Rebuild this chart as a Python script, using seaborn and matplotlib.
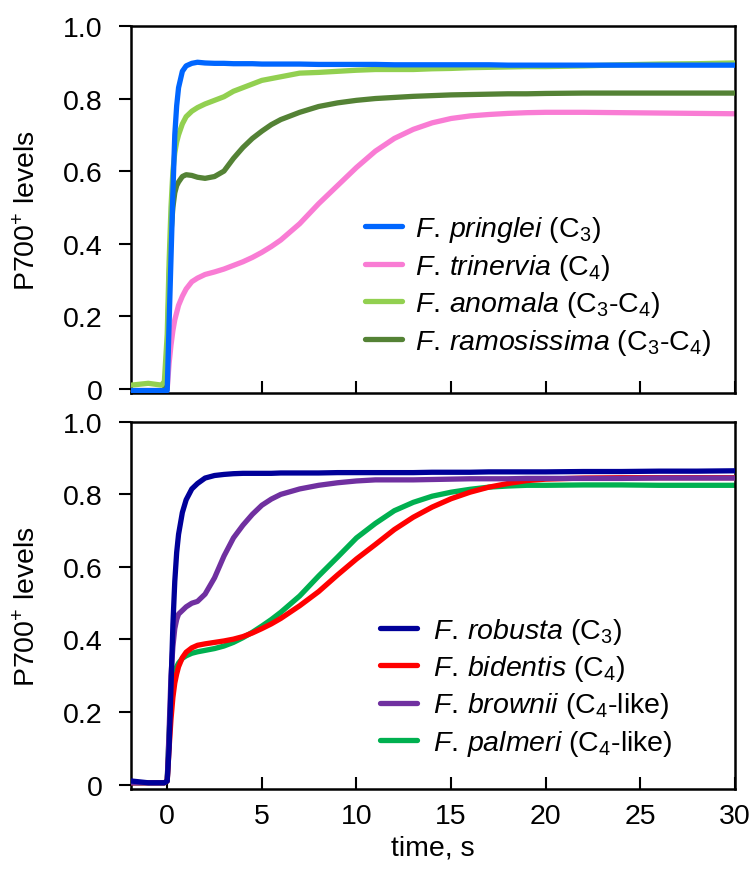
import matplotlib
matplotlib.use("Agg")
import matplotlib.pyplot as plt
import seaborn as sns
import pandas as pd

# time axis (s), shared by all traces
time_s = [-1.9, -1.0, -0.3, -0.15, 0, 0.1, 0.2, 0.3, 0.4, 0.5, 0.6, 0.8, 1.0, 1.3, 1.6,
          2.0, 2.5, 3.0, 3.5, 4.0, 4.5, 5.0, 5.5, 6.0, 7, 8, 9, 10, 11, 12, 13, 14, 15,
          16, 17, 18, 19, 20, 22, 24, 26, 28, 30]

# top panel
pringlei = [-0.005, -0.005, -0.005, -0.005, -0.005, 0.18, 0.36, 0.54, 0.70, 0.78, 0.83, 0.875,
            0.89, 0.897, 0.90, 0.898, 0.897, 0.897, 0.896, 0.896, 0.896, 0.895, 0.895, 0.895,
            0.895, 0.894, 0.894, 0.894, 0.894, 0.893, 0.893, 0.893, 0.893, 0.893, 0.893, 0.892,
            0.892, 0.892, 0.892, 0.892, 0.892, 0.892, 0.892]
trinervia = [-0.005, -0.005, -0.005, -0.005, 0.0, 0.07, 0.12, 0.16, 0.19, 0.21, 0.23, 0.255,
             0.275, 0.295, 0.305, 0.315, 0.322, 0.33, 0.34, 0.35, 0.362, 0.376, 0.392, 0.41,
             0.455, 0.51, 0.56, 0.61, 0.655, 0.69, 0.715, 0.733, 0.745, 0.752, 0.756, 0.759,
             0.761, 0.762, 0.762, 0.761, 0.76, 0.759, 0.758]
anomala = [0.01, 0.015, 0.01, 0.02, 0.15, 0.35, 0.50, 0.60, 0.65, 0.68, 0.70, 0.73, 0.75,
           0.765, 0.775, 0.785, 0.795, 0.805, 0.82, 0.83, 0.84, 0.85, 0.855, 0.86, 0.87, 0.872,
           0.875, 0.878, 0.88, 0.88, 0.88, 0.882, 0.883, 0.885, 0.886, 0.887, 0.888, 0.888,
           0.89, 0.893, 0.895, 0.896, 0.898]
ramosissima = [-0.005, -0.005, -0.005, -0.005, 0.05, 0.30, 0.43, 0.50, 0.54, 0.56, 0.57, 0.585,
               0.59, 0.588, 0.583, 0.58, 0.585, 0.60, 0.635, 0.665, 0.69, 0.71, 0.728, 0.742,
               0.762, 0.778, 0.788, 0.795, 0.80, 0.803, 0.806, 0.808, 0.81, 0.811, 0.812, 0.813,
               0.813, 0.814, 0.815, 0.815, 0.815, 0.815, 0.815]

# bottom panel
robusta = [0.01, 0.005, 0.005, 0.005, 0.01, 0.10, 0.27, 0.44, 0.56, 0.64, 0.69, 0.75, 0.785,
           0.815, 0.83, 0.845, 0.852, 0.855, 0.857, 0.858, 0.858, 0.858, 0.858, 0.859, 0.859,
           0.859, 0.86, 0.86, 0.86, 0.86, 0.86, 0.861, 0.861, 0.861, 0.862, 0.862, 0.862,
           0.862, 0.863, 0.863, 0.864, 0.864, 0.865]
bidentis = [0.005, 0.005, 0.005, 0.005, 0.01, 0.10, 0.18, 0.24, 0.28, 0.305, 0.325, 0.35, 0.365,
            0.377, 0.384, 0.388, 0.392, 0.396, 0.401, 0.408, 0.418, 0.43, 0.443, 0.458, 0.493,
            0.532, 0.578, 0.622, 0.662, 0.703, 0.737, 0.765, 0.788, 0.806, 0.82, 0.83, 0.838,
            0.842, 0.845, 0.846, 0.846, 0.846, 0.846]
brownii = [0.005, 0.005, 0.005, 0.005, 0.01, 0.15, 0.30, 0.38, 0.43, 0.455, 0.47, 0.48, 0.49,
           0.50, 0.505, 0.525, 0.57, 0.63, 0.68, 0.715, 0.745, 0.77, 0.787, 0.80, 0.815, 0.825,
           0.832, 0.837, 0.84, 0.84, 0.84, 0.841, 0.842, 0.843, 0.843, 0.843, 0.844, 0.844,
           0.844, 0.844, 0.845, 0.845, 0.845]
palmeri = [0.005, 0.005, 0.005, 0.005, 0.01, 0.14, 0.23, 0.28, 0.31, 0.325, 0.335, 0.348, 0.355,
           0.362, 0.366, 0.37, 0.375, 0.382, 0.392, 0.405, 0.42, 0.437, 0.455, 0.475, 0.52,
           0.575, 0.627, 0.68, 0.72, 0.755, 0.778, 0.795, 0.806, 0.814, 0.82, 0.823, 0.825,
           0.825, 0.826, 0.826, 0.825, 0.825, 0.825]

top_series = [
    (r"$\mathit{F.\,pringlei}$ (C$_3$)", pringlei, "#0066FF", 5),
    (r"$\mathit{F.\,trinervia}$ (C$_4$)", trinervia, "#F97CD4", 2),
    (r"$\mathit{F.\,anomala}$ (C$_3$-C$_4$)", anomala, "#92D050", 4),
    (r"$\mathit{F.\,ramosissima}$ (C$_3$-C$_4$)", ramosissima, "#548235", 3),
]
bottom_series = [
    (r"$\mathit{F.\,robusta}$ (C$_3$)", robusta, "#000099", 5),
    (r"$\mathit{F.\,bidentis}$ (C$_4$)", bidentis, "#FF0000", 3),
    (r"$\mathit{F.\,brownii}$ (C$_4$-like)", brownii, "#7030A0", 4),
    (r"$\mathit{F.\,palmeri}$ (C$_4$-like)", palmeri, "#00B050", 2),
]

sns.set_style("ticks")
plt.rcParams['font.family'] = ['Liberation Sans', 'DejaVu Sans']
plt.rcParams['mathtext.fontset'] = 'custom'
plt.rcParams['mathtext.rm'] = 'Liberation Sans'
plt.rcParams['mathtext.it'] = 'Liberation Sans:italic'
plt.rcParams['mathtext.bf'] = 'Liberation Sans:bold'
for key in ['text.color', 'axes.labelcolor', 'xtick.color', 'ytick.color', 'axes.edgecolor']:
    plt.rcParams[key] = 'black'

fs = 20.5
fig = plt.figure(figsize=(7.5, 8.7), dpi=100)
ax_top = fig.add_axes([0.175, 0.547, 0.805, 0.422])
ax_bot = fig.add_axes([0.175, 0.092, 0.805, 0.422])

for ax, series in [(ax_top, top_series), (ax_bot, bottom_series)]:
    for label, vals, col, z in series:
        df = pd.DataFrame({"time": time_s, "level": vals})
        sns.lineplot(data=df, x="time", y="level", ax=ax, color=col, linewidth=3.8,
                     label=label, zorder=z)
    ax.set_xlim(-1.9, 30)
    ax.set_ylim(-0.012, 1.0)
    ax.set_xticks(range(0, 31, 5))
    ax.set_yticks([0, 0.2, 0.4, 0.6, 0.8, 1.0])
    ax.set_yticklabels(["0", "0.2", "0.4", "0.6", "0.8", "1.0"], fontsize=fs)
    ax.tick_params(axis='x', direction='in', length=8.5, width=1.5, labelsize=fs, pad=10)
    ax.tick_params(axis='y', direction='out', length=8.5, width=1.5, labelsize=fs, pad=12)
    for sp in ax.spines.values():
        sp.set_linewidth(1.8)
        sp.set_color("black")
    ax.set_ylabel("P700$^{+}$ levels", fontsize=fs, labelpad=16)
    ax.set_xlabel("")

ax_top.tick_params(axis='x', labelbottom=False)
ax_bot.set_xlabel("time, s", fontsize=fs, labelpad=4)

ax_top.legend(loc="upper left", bbox_to_anchor=(0.387, 0.487), frameon=False, fontsize=fs,
              handlelength=1.3, handletextpad=0.45, labelspacing=0.26, borderpad=0,
              borderaxespad=0)
ax_bot.legend(loc="upper left", bbox_to_anchor=(0.412, 0.472), frameon=False, fontsize=fs,
              handlelength=1.3, handletextpad=0.55, labelspacing=0.26, borderpad=0,
              borderaxespad=0)

fig.savefig("out.png", dpi=100)
